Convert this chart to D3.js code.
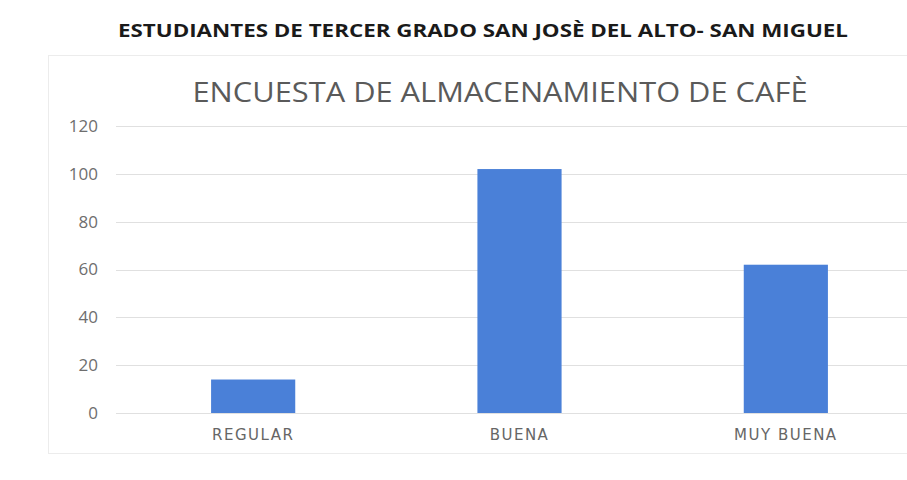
<!DOCTYPE html>
<html>
<head>
<meta charset="utf-8">
<script src="https://cdn.jsdelivr.net/npm/d3@7"></script>
<style>
  body { margin: 0; background: #fff; }
  svg { display: block; }
</style>
</head>
<body>
<div id="chart"></div>
<script>
var heading = "ESTUDIANTES DE TERCER GRADO SAN JOSÈ DEL ALTO- SAN MIGUEL";
var chartTitle = "ENCUESTA DE ALMACENAMIENTO DE CAFÈ";
var categories = ["REGULAR", "BUENA", "MUY BUENA"];
var values = [14, 102, 62];
var yTicks = [0, 20, 40, 60, 80, 100, 120];

var width = 907, height = 480;

var svg = d3.select("#chart").append("svg")
    .attr("width", width)
    .attr("height", height);

// faint chart frame
svg.append("rect")
    .attr("x", 48.5).attr("y", 55.5)
    .attr("width", 900).attr("height", 398)
    .attr("fill", "none")
    .attr("stroke", "#ececec");

// heading above the chart
svg.append("text")
    .attr("x", 483).attr("y", 37)
    .attr("text-anchor", "middle")
    .attr("textLength", 730)
    .attr("lengthAdjust", "spacingAndGlyphs")
    .style("font-family", "'Open Sans', sans-serif")
    .style("font-weight", "bold")
    .style("font-size", "18px")
    .style("fill", "#1a1a1a")
    .text(heading);

svg.append("text")
    .attr("x", 500).attr("y", 102)
    .attr("text-anchor", "middle")
    .attr("textLength", 615)
    .attr("lengthAdjust", "spacingAndGlyphs")
    .style("font-family", "'Open Sans', sans-serif")
    .style("font-size", "27px")
    .style("fill", "#5a5a5a")
    .text(chartTitle);

var y = d3.scaleLinear()
    .domain([0, 120])
    .range([413, 126]);

var x = d3.scaleBand()
    .domain(categories)
    .range([120, 919])
    .paddingInner(0.684)
    .paddingOuter(0.342);

// gridlines
svg.append("g")
    .selectAll("line")
    .data(yTicks)
    .enter()
    .append("line")
    .attr("x1", 116).attr("x2", 919)
    .attr("y1", function(d) { return Math.round(y(d)) + 0.5; })
    .attr("y2", function(d) { return Math.round(y(d)) + 0.5; })
    .attr("stroke", "#e0e0e0")
    .attr("stroke-width", 1);

var yAxis = d3.axisLeft(y)
    .tickValues(yTicks)
    .tickSize(0)
    .tickPadding(0);

var gy = svg.append("g")
    .attr("transform", "translate(98,0)")
    .call(yAxis);
gy.select(".domain").remove();
gy.selectAll("text")
    .style("font-family", "'Open Sans', sans-serif")
    .style("font-size", "17px")
    .style("fill", "#6e6e6e");

svg.append("g")
    .selectAll("rect")
    .data(values)
    .enter()
    .append("rect")
    .attr("x", function(d, i) { return x(categories[i]); })
    .attr("y", function(d) { return y(d); })
    .attr("width", x.bandwidth())
    .attr("height", function(d) { return y(0) - y(d); })
    .attr("fill", "#4a80d8");

var xAxis = d3.axisBottom(x)
    .tickSize(0)
    .tickPadding(0);

var gx = svg.append("g")
    .attr("transform", "translate(0,429)")
    .call(xAxis);
gx.select(".domain").remove();
gx.selectAll("text")
    .style("font-family", "'DejaVu Sans', sans-serif")
    .style("font-size", "15px")
    .style("letter-spacing", "1.5px")
    .style("fill", "#666");
</script>
</body>
</html>
